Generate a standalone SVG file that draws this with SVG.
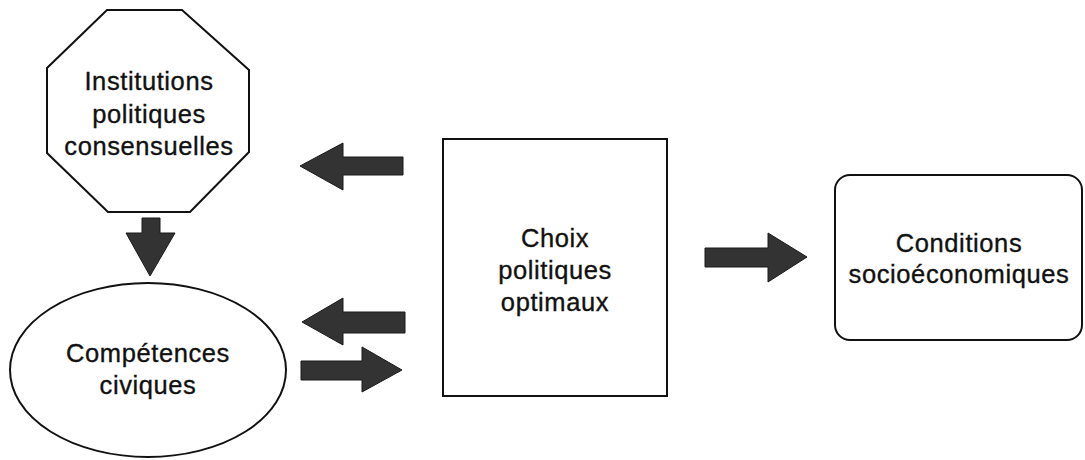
<svg xmlns="http://www.w3.org/2000/svg" width="1085" height="460" viewBox="0 0 1085 460">
<style>
.shape{fill:#fff;stroke:#111;stroke-width:2}
.lbl{font-family:"Liberation Sans",Arial,sans-serif;font-size:25.5px;letter-spacing:0.6px;fill:#111;stroke:#111;stroke-width:0.35;text-anchor:middle}
.arr{fill:#333;stroke:#1a1a1a;stroke-width:1}
</style>
<rect width="1085" height="460" fill="#fff"/>
<g id="connectors">
<polygon class="arr" points="300,166 343,143 343,157 403,157 403,175 343,175 343,190"/>
<polygon class="arr" points="302,322 343,298 343,312 405,312 405,333 343,333 343,345"/>
<polygon class="arr" points="402,370 362,347 362,361 301,361 301,380 362,380 362,392"/>
<polygon class="arr" points="807,257 768,233 768,248 705,248 705,267 768,267 768,282"/>
<polygon class="arr" points="150,276 126,233 142,233 142,218 160,218 160,233 175,233"/>
</g>
<g id="institutions">
<polygon class="shape" points="107,10 182,10 249,70 249,152 190,212 108,212 47,153 47,68"/>
<text class="lbl" x="149" y="90">Institutions</text>
<text class="lbl" x="149" y="122.5">politiques</text>
<text class="lbl" x="149" y="155">consensuelles</text>
</g>
<g id="competences">
<ellipse class="shape" cx="148" cy="370" rx="138" ry="87" stroke-width="1.5"/>
<text class="lbl" x="148" y="362">Compétences</text>
<text class="lbl" x="148" y="394">civiques</text>
</g>
<g id="choix">
<rect class="shape" x="443" y="139" width="224" height="257"/>
<text class="lbl" x="555" y="247">Choix</text>
<text class="lbl" x="555" y="279">politiques</text>
<text class="lbl" x="555" y="311">optimaux</text>
</g>
<g id="conditions">
<rect class="shape" x="835" y="175" width="247" height="165" rx="15" ry="15"/>
<text class="lbl" x="959" y="252">Conditions</text>
<text class="lbl" x="959" y="283">socioéconomiques</text>
</g>
</svg>
